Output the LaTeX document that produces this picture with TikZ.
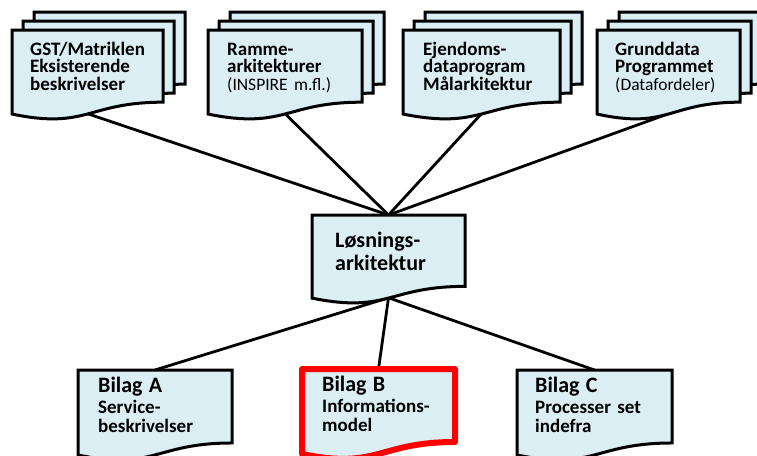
\documentclass[tikz,border=0pt]{standalone}
\usepackage{fontspec}
\setmainfont{Carlito}
\usetikzlibrary{calc}
\definecolor{sheetblue}{RGB}{219,238,244}
\definecolor{markred}{RGB}{255,0,0}
\pgfdeclarelayer{background}
\pgfsetlayers{background,main}
\tikzset{
	sheet/.style = {
		fill=sheetblue,
		draw=black,
		line width=3pt
	},
	marked/.style = {
		draw=markred,
		line width=6pt,
		line join=round
	},
	sheetnode/.style = {
		inner sep=0pt,
		outer sep=0pt
	},
	link/.style = {
		line width=2.8pt,
		black
	},
	doctext/.style = {
		anchor=base west,
		inner sep=0pt,
		text width=150pt,
		align=left,
		font=\bfseries\fontsize{19}{17.8}\selectfont
	},
	maintext/.style = {
		doctext,
		font=\bfseries\fontsize{22}{23}\selectfont
	},
	bilagtext/.style = {
		doctext,
		font=\bfseries\fontsize{19}{19.5}\selectfont
	}
}
% one sheet with a wavy lower edge: name, x, y, width, height
\newcommand{\docsheet}[6][]{
	\node[sheetnode, minimum width=#5pt, minimum height=#6pt, anchor=north west] (#2) at (#3,#4) {};
	\draw[sheet,#1] (#2.north west) -- (#2.north east) -- ($(#2.north east)!0.802!(#2.south east)$)
		.. controls ($(#2.north)!0.802!(#2.south)$) and ($(#2.north)!1.108!(#2.south)$) .. ($(#2.north west)!0.934!(#2.south west)$) -- cycle;
	\coordinate (#2-b) at ($(#2.north)!0.93!(#2.south)$);
}
% three sheets stacked
\newcommand{\docstack}[5]{
	\docsheet{#1-3}{#2+22}{#3-18}{#4}{#5}
	\docsheet{#1-2}{#2+11}{#3-9}{#4}{#5}
	\docsheet{#1}{#2}{#3}{#4}{#5}
}
\newcommand{\bigline}[1]{{\fontsize{22}{22}\selectfont #1}}
\newcommand{\smallline}[1]{{\mdseries\fontsize{17.5}{17.5}\selectfont #1}}

\begin{document}
\begin{tikzpicture}[x=1pt, y=-1pt]
\clip (0,0) rectangle (757,455);

% top row
\docstack{gst}{12}{30}{151}{90}
\docstack{ramme}{208}{30}{154}{90}
\docstack{ejendom}{403}{30}{157}{90}
\docstack{grund}{597}{30}{143}{90}

\node[doctext] (gst-txt) at (30,55) {GST/Matriklen\\Eksisterende\\beskrivelser};
\node[doctext] (ramme-txt) at (227,55) {Ramme-\\arkitekturer\\\smallline{(INSPIRE m.fl.)}};
\node[doctext] (ejendom-txt) at (423,55) {Ejendoms-\\dataprogram\\Målarkitektur};
\node[doctext] (grund-txt) at (615,55) {Grunddata\\Programmet\\\smallline{(Datafordeler)}};

% middle
\docsheet{loes}{312}{215}{153}{89}
\node[maintext] (loes-txt) at (335,247) {Løsnings-\\arkitektur};

% bottom row
\docsheet{bilA}{78}{370}{154}{91}
\docsheet[marked]{bilB}{302}{369}{153}{91}
\docsheet{bilC}{517}{370}{155}{91}

\node[bilagtext] (bilA-txt) at (98,392) {\bigline{Bilag A}\\[1.5pt]Service-\\beskrivelser};
\node[bilagtext] (bilB-txt) at (322,391) {\bigline{Bilag B}\\[1.5pt]Informations-\\model};
\node[bilagtext] (bilC-txt) at (535,392) {\bigline{Bilag C}\\[1.5pt]Processer set\\indefra};

\begin{pgfonlayer}{background}
\draw[link] (gst-b) -- (loes.north);
\draw[link] (ramme-b) -- (loes.north);
\draw[link] (ejendom-b) -- (loes.north);
\draw[link] (grund-b) -- (loes.north);
\draw[link] (loes-b) -- (bilA.north);
\draw[link] (loes-b) -- (bilB.north);
\draw[link] (loes-b) -- (bilC.north);
\end{pgfonlayer}
\end{tikzpicture}
\end{document}
